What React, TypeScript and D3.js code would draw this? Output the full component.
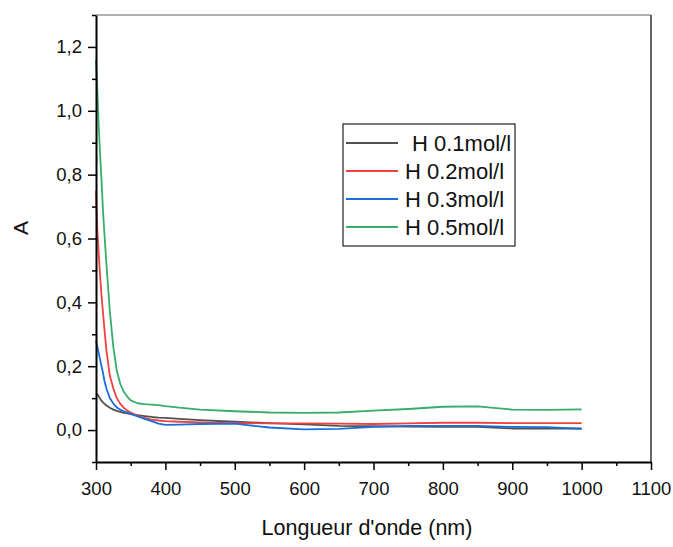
import React, { useRef, useEffect } from 'react';
import * as d3 from 'd3';

// wavelength (nm) shared by all series
const wavelengths = [300, 302, 304, 306, 308, 310, 312, 315, 320, 325, 330, 335, 340, 345, 350, 360, 370, 380, 390, 400, 420, 450, 500, 550, 600, 650, 700, 750, 800, 850, 900, 950, 1000];

const h01 = [0.115, 0.112, 0.105, 0.098, 0.092, 0.087, 0.083, 0.077, 0.07, 0.064, 0.06, 0.057, 0.054, 0.052, 0.05, 0.047, 0.044, 0.041, 0.039, 0.038, 0.035, 0.031, 0.026, 0.022, 0.018, 0.013, 0.012, 0.011, 0.01, 0.01, 0.005, 0.005, 0.005];
const h02 = [0.75, 0.62, 0.55, 0.48, 0.42, 0.37, 0.32, 0.25, 0.17, 0.13, 0.1, 0.082, 0.07, 0.061, 0.055, 0.045, 0.038, 0.033, 0.03, 0.028, 0.026, 0.024, 0.022, 0.021, 0.021, 0.02, 0.019, 0.021, 0.023, 0.023, 0.022, 0.022, 0.022];
const h03 = [0.28, 0.26, 0.24, 0.22, 0.2, 0.18, 0.156, 0.13, 0.1, 0.083, 0.071, 0.064, 0.059, 0.055, 0.051, 0.043, 0.035, 0.028, 0.02, 0.016, 0.017, 0.019, 0.02, 0.008, 0.002, 0.004, 0.01, 0.013, 0.013, 0.013, 0.01, 0.009, 0.004];
const h05 = [1.16, 1.06, 0.95, 0.86, 0.78, 0.69, 0.62, 0.52, 0.37, 0.26, 0.185, 0.145, 0.12, 0.105, 0.093, 0.084, 0.081, 0.08, 0.078, 0.075, 0.07, 0.064, 0.059, 0.055, 0.054, 0.055, 0.061, 0.066, 0.073, 0.074, 0.064, 0.063, 0.065];

const seriesNames = ['H 0.1mol/l', 'H 0.2mol/l', 'H 0.3mol/l', 'H 0.5mol/l'];
const seriesValues = [h01, h02, h03, h05];
const seriesColors = ['#515151', '#F14040', '#1A6FDF', '#37AD6B'];

const xMajorTicks = [300, 400, 500, 600, 700, 800, 900, 1000, 1100];
const xMinorTicks = [350, 450, 550, 650, 750, 850, 950, 1050];
const yMajorTicks = [0, 0.2, 0.4, 0.6, 0.8, 1.0, 1.2];
const yMinorTicks = [-0.1, 0.1, 0.3, 0.5, 0.7, 0.9, 1.1, 1.3];

const W = 673;
const H = 547;
const FONT = '"Liberation Sans", Arial, sans-serif';

const Chart = () => {
  const svgRef = useRef<SVGSVGElement>(null);

  useEffect(() => {
    const svg = d3.select(svgRef.current);
    svg.selectAll('*').remove();

    const margin = { top: 15, right: 22, bottom: 85, left: 96 };
    const width = W - margin.left - margin.right;
    const height = H - margin.top - margin.bottom;

    const g = svg.append('g')
      .attr('transform', `translate(${margin.left},${margin.top})`);

    const x = d3.scaleLinear().domain([300, 1100]).range([0, width]);
    const y = d3.scaleLinear().domain([-0.1, 1.3]).range([height, 0]);

    const fr = d3.formatLocale({ decimal: ',', thousands: '', grouping: [3], currency: ['', ''] });

    // curves
    const line = d3.line<number>()
      .x((_, i) => x(wavelengths[i]))
      .y(d => y(d));

    seriesValues.forEach((vals, k) => {
      g.append('path')
        .datum(vals)
        .attr('fill', 'none')
        .attr('stroke', seriesColors[k])
        .attr('stroke-width', 1.8)
        .attr('stroke-linejoin', 'round')
        .attr('d', line);
    });

    // frame top / right
    g.append('line').attr('x1', 0).attr('x2', width).attr('y1', 0).attr('y2', 0)
      .attr('stroke', '#666').attr('stroke-width', 1.2);
    g.append('line').attr('x1', width).attr('x2', width).attr('y1', 0).attr('y2', height)
      .attr('stroke', '#333').attr('stroke-width', 1.5);

    // x axis
    const xAxis = g.append('g')
      .attr('transform', `translate(0,${height})`)
      .call(d3.axisBottom(x).tickValues(xMajorTicks).tickSize(8).tickSizeOuter(0).tickFormat(d3.format('d') as any));
    g.append('g')
      .attr('transform', `translate(0,${height})`)
      .call(d3.axisBottom(x).tickValues(xMinorTicks).tickSize(4).tickSizeOuter(0).tickFormat(() => ''))
      .select('.domain').remove();

    // y axis
    const yAxis = g.append('g')
      .call(d3.axisLeft(y).tickValues(yMajorTicks).tickSize(8).tickSizeOuter(0).tickFormat(fr.format('.1f') as any));
    g.append('g')
      .call(d3.axisLeft(y).tickValues(yMinorTicks).tickSize(4).tickSizeOuter(0).tickFormat(() => ''))
      .select('.domain').remove();

    [xAxis, yAxis].forEach(a => {
      a.select('.domain').attr('stroke', '#000').attr('stroke-width', 2);
      a.selectAll('.tick text').attr('font-family', FONT).attr('font-size', 18.5).attr('fill', '#111');
    });
    g.selectAll('.tick line').attr('stroke', '#000').attr('stroke-width', 1.5);
    xAxis.selectAll('.tick text').attr('dy', '1.2em');
    yAxis.selectAll('.tick text').attr('x', -14);

    // axis titles
    svg.append('text')
      .attr('x', 367)
      .attr('y', 535)
      .attr('text-anchor', 'middle')
      .attr('font-family', FONT)
      .attr('font-size', 21.5)
      .attr('fill', '#111')
      .text("Longueur d'onde (nm)");

    svg.append('text')
      .attr('transform', `translate(28,${228}) rotate(-90)`)
      .attr('text-anchor', 'middle')
      .attr('font-family', FONT)
      .attr('font-size', 21)
      .attr('fill', '#111')
      .text('A');

    // legend
    const lg = svg.append('g').attr('transform', 'translate(343,124)');
    lg.append('rect')
      .attr('width', 172).attr('height', 122)
      .attr('fill', '#fff').attr('stroke', '#222').attr('stroke-width', 1.2);
    seriesNames.forEach((name, k) => {
      const ry = 19 + k * 28;
      lg.append('line')
        .attr('x1', 3).attr('x2', 55).attr('y1', ry).attr('y2', ry)
        .attr('stroke', seriesColors[k]).attr('stroke-width', 1.8);
      lg.append('text')
        .attr('x', k === 0 ? 69 : 62)
        .attr('y', ry + 7.5)
        .attr('font-family', FONT)
        .attr('font-size', 22)
        .attr('fill', '#111')
        .text(name);
    });
  }, []);

  return <svg ref={svgRef} width={W} height={H} style={{ position: 'absolute', left: 0, top: 0, background: '#fff' }}></svg>;
};

export default function App() {
  return <Chart />;
}
